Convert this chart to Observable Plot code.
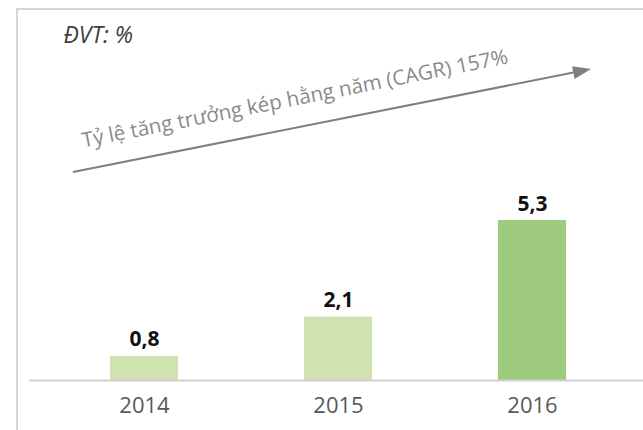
<!DOCTYPE html>
<html>
<head>
<meta charset="utf-8">
<script src="https://cdn.jsdelivr.net/npm/d3@7"></script>
<script src="https://cdn.jsdelivr.net/npm/@observablehq/plot@0.6"></script>
<style>
  html, body { margin: 0; padding: 0; background: #fff; }
  #wrap { position: relative; width: 643px; height: 430px; overflow: hidden; }
  #frame { position: absolute; left: 16px; top: 8px; right: -4px; bottom: -4px;
           border-left: 2px solid #d6d6d6; border-top: 2px solid #d6d6d6; pointer-events: none; }
</style>
</head>
<body>
<div id="wrap"><div id="frame"></div></div>
<script>
const years = ["2014", "2015", "2016"];
const values = [0.8, 2.1, 5.3];
const valueLabels = ["0,8", "2,1", "5,3"];
const barColors = ["#cfe2b0", "#cfe2b0", "#9ecb7d"];
const unitLabel = "ĐVT: %";
const cagrLabel = "Tỷ lệ tăng trưởng kép hằng năm (CAGR) 157%";
// annotation arrow (pixel positions in the picture)
const arrowFrom = [73, 172];
const arrowTo = [591, 69];

const data = years.map((year, i) => ({year, value: values[i], label: valueLabels[i], color: barColors[i]}));
const FONT = "'Open Sans', 'Noto Sans', sans-serif";

function arrowMark(index, scales, channels, dimensions) {
  const g = d3.create("svg:g");
  const [x1, y1] = arrowFrom, [x2, y2] = arrowTo;
  const len = Math.hypot(x2 - x1, y2 - y1);
  const ux = (x2 - x1) / len, uy = (y2 - y1) / len;
  const headLen = 18, headHalf = 6.5;
  const bx = x2 - ux * headLen, by = y2 - uy * headLen;
  g.append("line").attr("x1", x1).attr("y1", y1).attr("x2", bx).attr("y2", by)
    .attr("stroke", "#7f7f7f").attr("stroke-width", 2);
  g.append("path")
    .attr("d", `M${x2},${y2}L${bx - uy * headHalf},${by + ux * headHalf}L${bx + uy * headHalf},${by - ux * headHalf}Z`)
    .attr("fill", "#7f7f7f");
  return g.node();
}

const chart = Plot.plot({
  width: 643,
  height: 430,
  marginLeft: 17,
  marginRight: 0,
  marginTop: 9,
  marginBottom: 50,
  style: {fontFamily: FONT, background: "transparent"},
  x: {domain: years, range: [47, 629], paddingInner: 0.65, paddingOuter: 0.325},
  y: {domain: [0, 5.3], range: [380, 220], axis: null},
  color: {type: "identity"},
  marks: [
    Plot.barY(data, {x: "year", y: "value", fill: "color"}),
    Plot.ruleY([0], {stroke: "#d0d0d0", strokeWidth: 2, insetLeft: 12}),
    Plot.text(data, {x: "year", y: "value", text: "label", dy: -10, lineAnchor: "bottom",
      fontWeight: "bold", fontSize: 21, fill: "#111"}),
    Plot.axisX({tickSize: 0, tickPadding: 17, fontSize: 22, color: "#595959", label: null}),
    Plot.text([unitLabel], {frameAnchor: "top-left", textAnchor: "start", lineAnchor: "bottom",
      dx: 46, dy: 33, fontStyle: "italic", fontSize: 23, fill: "#404040"}),
    Plot.text([cagrLabel], {frameAnchor: "top-left", textAnchor: "start", lineAnchor: "bottom",
      dx: 66, dy: 138, rotate: -11.2, fontSize: 20.6, fill: "#8a8a8a"}),
    arrowMark
  ]
});
document.getElementById("wrap").prepend(chart);
</script>
</body>
</html>
